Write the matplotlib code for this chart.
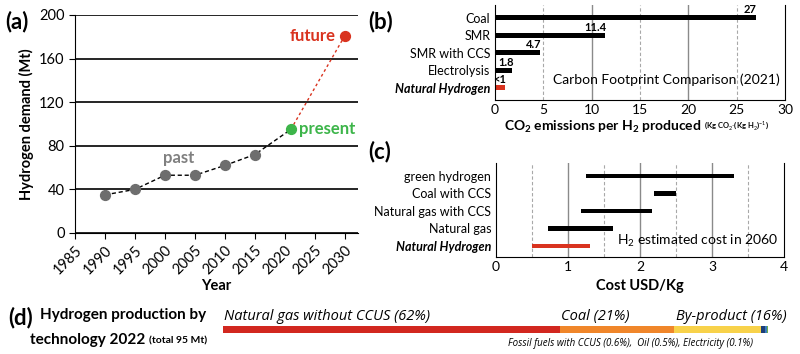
import matplotlib
matplotlib.use("Agg")
import matplotlib.pyplot as plt

plt.rcParams['font.family'] = ['Lato', 'DejaVu Sans']
plt.rcParams['mathtext.fontset'] = 'custom'
plt.rcParams['mathtext.rm'] = 'Lato'
plt.rcParams['mathtext.bf'] = 'Lato:bold'

# (a) hydrogen demand
past_years = [1990, 1995, 2000, 2005, 2010, 2015]
past_demand = [35, 40, 53, 53, 62, 72]
present_year, present_demand = 2021, 95
future_year, future_demand = 2030, 181

# (b) carbon footprint
fp_names = ['Coal', 'SMR', 'SMR with CCS', 'Electrolysis', 'Natural Hydrogen']
fp_values = [27, 11.4, 4.7, 1.8, 1.0]
fp_labels = ['27', '11.4', '4.7', '1.8', '<1']

# (c) cost ranges in 2060
cost_names = ['green hydrogen', 'Coal with CCS', 'Natural gas with CCS', 'Natural gas', 'Natural Hydrogen']
cost_low = [1.25, 2.2, 1.18, 0.72, 0.5]
cost_high = [3.3, 2.5, 2.17, 1.63, 1.3]

# (d) production by technology 2022
tech_names = ['Natural gas without CCUS', 'Coal', 'By-product', 'Fossil fuels with CCUS', 'Oil', 'Electricity']
tech_share = [62, 21, 16, 0.6, 0.5, 0.1]
tech_colors = ['#d2271f', '#f0862a', '#f8d24a', '#1d3e78', '#3a7bbf', '#6cb04a']

RED = '#d9331f'
GREEN = '#3db54a'
GREY = '#6e6e6e'

fig = plt.figure(figsize=(8, 3.54), dpi=100)
W, H = 800, 354


def box(x0, y0, x1, y1):
    return [x0 / W, 1 - y1 / H, (x1 - x0) / W, (y1 - y0) / H]


# ---- (a)
ax = fig.add_axes(box(75, 15, 358, 233))
ax.plot(past_years + [present_year], past_demand + [present_demand], ls=(0, (3, 2)),
        color='black', lw=1, zorder=2)
ax.plot([present_year, future_year], [present_demand, future_demand], ls=(0, (2, 2)),
        color=RED, lw=1, zorder=2)
ax.scatter(past_years, past_demand, s=50, color=GREY, zorder=3)
ax.scatter([present_year], [present_demand], s=50, color=GREEN, zorder=3)
ax.scatter([future_year], [future_demand], s=50, color=RED, zorder=3)
ax.text(2002.3, 64, 'past', color='#808080', fontsize=12, fontweight='bold', ha='center')
ax.text(2022.4, 95, 'present', color=GREEN, fontsize=12, fontweight='bold', va='center')
ax.text(2028.4, 181, 'future', color=RED, fontsize=12, fontweight='bold', va='center', ha='right')
ax.set_xlim(1985, 2032.2)
ax.set_ylim(0, 200)
ax.set_xticks(range(1985, 2031, 5))
ax.set_yticks(range(0, 201, 40))
ax.tick_params(axis='x', labelrotation=45, labelsize=10.5, length=4)
ax.tick_params(axis='y', labelsize=10.5, length=4)
for lbl in ax.get_xticklabels():
    lbl.set_ha('right')
    lbl.set_rotation_mode('anchor')
ax.grid(axis='y', color='black', lw=1.2)
ax.set_axisbelow(True)
for s in ['top', 'right']:
    ax.spines[s].set_visible(False)
ax.set_xlabel('Year', fontsize=10.5, fontweight='bold', labelpad=1)
ax.set_ylabel('Hydrogen demand (Mt)', fontsize=10.5, fontweight='bold')
fig.text(5 / W, 1 - 22 / H, '(a)', fontsize=16, fontweight='bold', va='center')


def range_grid(ax, solid, dashed):
    for v in solid:
        ax.axvline(v, color='#8a8a8a', lw=1, zorder=0)
    for v in dashed:
        ax.axvline(v, color='#a8a8a8', lw=0.8, ls=(0, (3, 2)), zorder=0)
    ax.spines['top'].set_visible(False)
    ax.tick_params(axis='y', length=0, labelsize=9)
    ax.tick_params(axis='x', length=0, labelsize=10, pad=3)


# ---- (b)
axb = fig.add_axes(box(495, 5, 785, 100))
ypos = list(range(len(fp_names)))[::-1]
colors = ['black'] * 4 + [RED]
axb.barh(ypos, fp_values, height=0.28, color=colors, zorder=2)
for y, v, lab in zip(ypos, fp_values, fp_labels):
    axb.text(v + 0.1, y + 0.15, lab, ha='right', va='bottom', fontsize=8, fontweight='bold')
axb.set_yticks(ypos)
axb.set_yticklabels(fp_names)
axb.get_yticklabels()[-1].set_fontweight('bold')
axb.get_yticklabels()[-1].set_style('italic')
axb.set_xlim(0, 30)
axb.set_ylim(-0.69, 4.74)
axb.set_xticks(range(0, 31, 5))
range_grid(axb, [10, 20], [5, 15, 25])
axb.text(29.5, 0.45, 'Carbon Footprint Comparison (2021)', ha='right', va='center', fontsize=10)
axb.set_xlabel(r'CO$_\mathbf{2}$ emissions per H$_\mathbf{2}$ produced', fontsize=10,
               fontweight='bold')
axb.xaxis.set_label_coords(0.37, -0.2)
fig.text(368 / W, 1 - 22 / H, '(b)', fontsize=16, fontweight='bold', va='center')

# ---- (c)
ax = fig.add_axes(box(496, 163, 784, 257))
ypos = list(range(len(cost_names)))[::-1]
widths = [h - l for l, h in zip(cost_low, cost_high)]
ax.barh(ypos, widths, left=cost_low, height=0.25, color=colors, zorder=2)
ax.set_yticks(ypos)
ax.set_yticklabels(cost_names)
ax.get_yticklabels()[-1].set_fontweight('bold')
ax.get_yticklabels()[-1].set_style('italic')
ax.set_xlim(0, 4)
ax.set_ylim(-0.63, 4.74)
ax.set_xticks(range(0, 5))
range_grid(ax, [1, 2, 3], [0.5, 1.5, 2.5, 3.5])
ax.text(3.92, 0.32, r'H$_2$ estimated cost in 2060', ha='right', va='center', fontsize=10)
ax.set_xlabel('Cost USD/Kg', fontsize=10.5, fontweight='bold', labelpad=4)
fig.text(368 / W, 1 - 152 / H, '(c)', fontsize=16, fontweight='bold', va='center')

# ---- (d)
ax = fig.add_axes(box(223, 326, 768, 333))
left = 0
starts = []
for share, col in zip(tech_share, tech_colors):
    ax.barh(0, share, left=left, height=1, color=col)
    starts.append(left)
    left += share
ax.set_xlim(0, left)
ax.set_ylim(-0.5, 0.5)
ax.axis('off')
for i in range(3):
    ax.text(starts[i] + 0.2, 1.8, f'{tech_names[i]} ({tech_share[i]}%)', style='italic',
            family='Open Sans', fontsize=10.5, va='center', ha='left')
small = ', '.join(f'{n} ({s}%)' for n, s in zip(tech_names[3:], tech_share[3:]))
ax.text(starts[3] - 1.5, -2.0, small.replace('), Oil', '),  Oil'),
        style='italic', family='Open Sans', fontsize=7, ha='right', va='center')
ax.annotate('', xy=(starts[3] + 0.2, -0.7), xytext=(starts[3] - 1.3, -2.1),
            arrowprops=dict(arrowstyle='-|>', color='black', lw=0.8, mutation_scale=6))
fig.text(8 / W, 1 - 318 / H, '(d)', fontsize=16, fontweight='bold', va='center')
fig.text(40 / W, 1 - 315 / H, 'Hydrogen production by', fontsize=11, fontweight='bold', va='center')
tech_txt = fig.text(30 / W, 1 - 340 / H, 'technology 2022', fontsize=11, fontweight='bold',
                    va='center')

# place the small unit texts right after the bold labels
fig.canvas.draw()
r = fig.canvas.get_renderer()
bb = tech_txt.get_window_extent(r)
fig.text((bb.x1 + 4) / W, 1 - 341 / H, '(total 95 Mt)', fontsize=7.5, fontweight='bold', va='center')
bb = axb.xaxis.label.get_window_extent(r)
fig.text((bb.x1 + 3) / W, (bb.y0 + 3) / H, r'(Kg CO$_2$$\cdot$(Kg H$_2$)$^{-1}$)',
         fontsize=5.5, fontweight='bold', ha='left', va='bottom')

fig.savefig('out.png', dpi=100)
